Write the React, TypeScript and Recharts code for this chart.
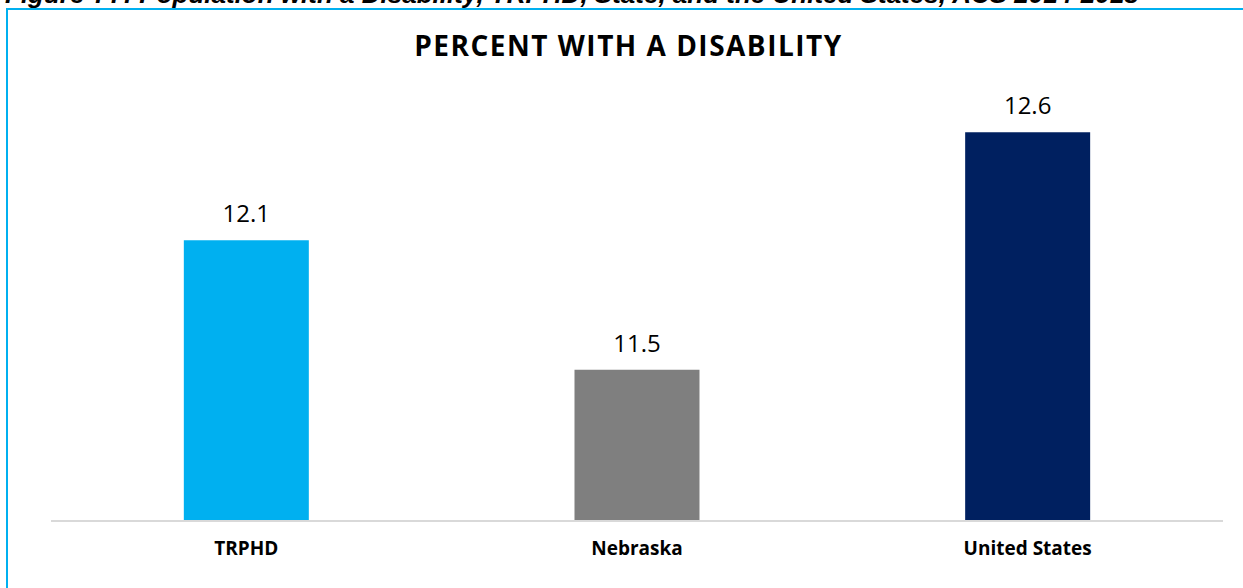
import { BarChart, Bar, XAxis, YAxis, Cell, LabelList } from 'recharts';

const categories = ['TRPHD', 'Nebraska', 'United States'];
const percentWithDisability = [12.1, 11.5, 12.6];
const barColors = ['#00B0F0', '#7F7F7F', '#002060'];

const data = categories.map((name, i) => ({ name, value: percentWithDisability[i] }));

export default function App() {
  return (
    <div
      style={{
        position: 'absolute',
        left: 0,
        top: 0,
        width: 1243,
        height: 588,
        overflow: 'hidden',
        background: '#fff',
      }}
    >
      {/* caption of the figure, mostly cut off above the frame */}
      <div
        style={{
          position: 'absolute',
          left: 5,
          top: -21,
          whiteSpace: 'nowrap',
          font: 'italic bold 26px "Liberation Sans", Arial, sans-serif',
          color: '#000',
        }}
      >
        Figure ??: Population with a Disability, TRPHD, State, and the United States, ACS 2014-2018
      </div>
      <div
        style={{
          position: 'absolute',
          left: 6,
          top: 8,
          width: 1300,
          height: 700,
          border: '2px solid #00B0F0',
        }}
      />
      <div
        style={{
          position: 'absolute',
          left: 0,
          width: 1243,
          top: 26,
          textAlign: 'center',
          fontFamily: '"Open Sans", sans-serif',
          fontWeight: 700,
          fontSize: 28,
          letterSpacing: 1.5,
          color: '#000',
          paddingLeft: 14,
          boxSizing: 'border-box',
        }}
      >
        PERCENT WITH A DISABILITY
      </div>
      <div style={{ position: 'absolute', left: 0, top: 0 }}>
        <BarChart
          width={1243}
          height={588}
          data={data}
          margin={{ top: 89, right: 20, left: 51, bottom: 37 }}
          barCategoryGap="34%"
        >
          <XAxis
            dataKey="name"
            height={30}
            axisLine={{ stroke: '#D9D9D9', strokeWidth: 2 }}
            tickLine={false}
            tickMargin={15}
            tick={{ fontSize: 19, fontWeight: 700, fill: '#000', fontFamily: '"Open Sans", sans-serif' }}
          />
          <YAxis hide domain={[10.8, 12.8]} allowDataOverflow />
          <Bar dataKey="value" isAnimationActive={false}>
            {data.map((d, i) => (
              <Cell key={d.name} fill={barColors[i]} />
            ))}
            <LabelList
              dataKey="value"
              position="top"
              offset={18}
              style={{ fontSize: 24, fill: '#000', fontFamily: '"Open Sans", sans-serif' }}
              formatter={(v: number) => v.toFixed(1)}
            />
          </Bar>
        </BarChart>
      </div>
    </div>
  );
}
